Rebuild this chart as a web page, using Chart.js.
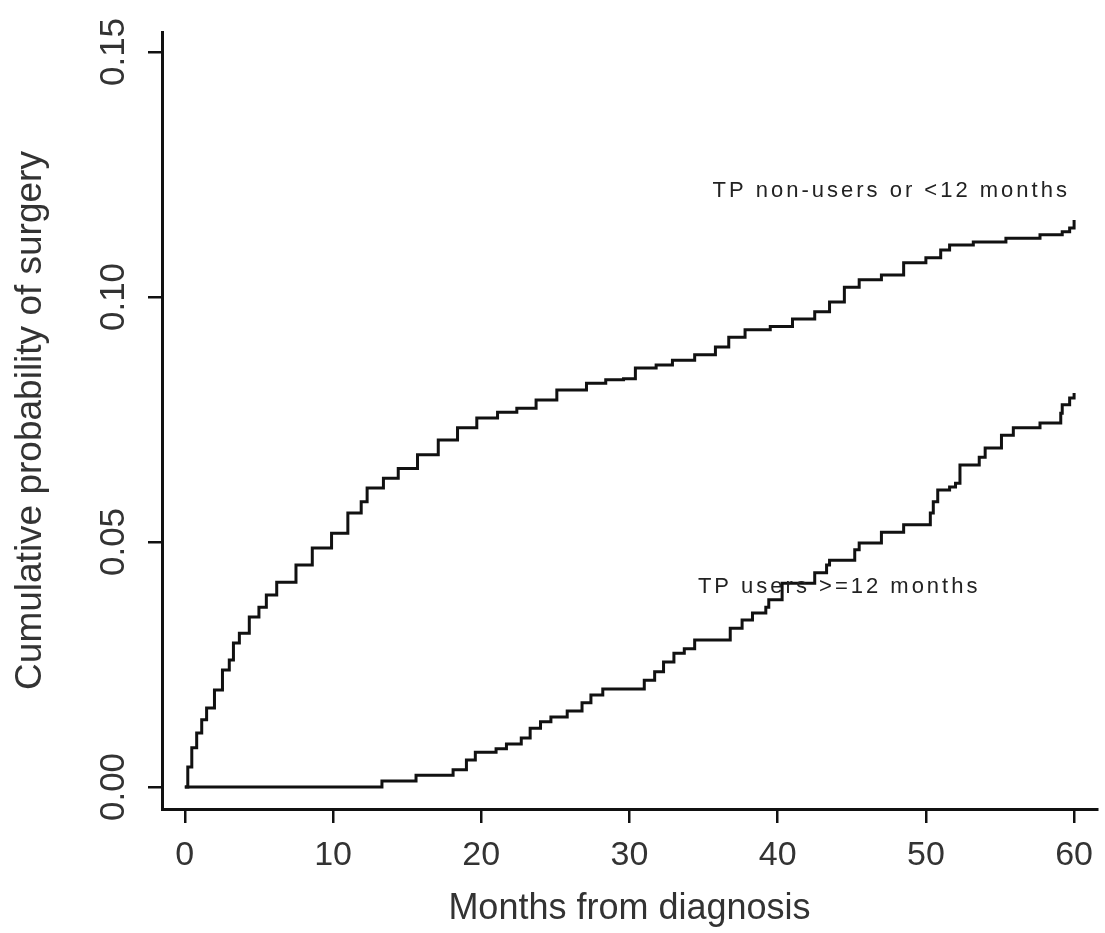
<!DOCTYPE html>
<html>
<head>
<meta charset="utf-8">
<script src="https://cdn.jsdelivr.net/npm/chart.js@4.4.1/dist/chart.umd.min.js"></script>
<style>
  html, body { margin: 0; padding: 0; background: #fff; }
  #grafico { display: block; }
</style>
</head>
<body>
<canvas id="grafico" width="1105" height="933"></canvas>
<script>
// months from diagnosis / cumulative probability
const mesesNoUsuarios = [0, 0.2, 0.47, 0.8, 1.14, 1.47, 2.0, 2.54, 3.0, 3.28, 3.68, 4.35, 5.0, 5.5, 6.2, 7.5, 8.6, 9.9, 11.0, 11.9,
  12.3, 13.4, 14.4, 15.7, 17.1, 18.4, 19.7, 21.1, 22.4, 23.7, 25.1, 27.1, 28.4, 29.6, 30.4, 31.8, 32.9, 34.4, 35.8, 36.7,
  37.8, 39.5, 41.0, 42.5, 43.5, 44.5, 45.5, 47.0, 48.5, 50.0, 51.0, 51.6, 53.2, 55.4, 57.7, 59.2, 59.7, 60.0];
const probNoUsuarios = [0, 0.0041, 0.008, 0.011, 0.0137, 0.0161, 0.0198, 0.0239, 0.0259, 0.0294, 0.0314, 0.0347, 0.0367, 0.0392, 0.0418, 0.0453, 0.0488, 0.0518, 0.0559, 0.0582,
  0.061, 0.063, 0.065, 0.0678, 0.0708, 0.0733, 0.0753, 0.0765, 0.0773, 0.079, 0.081, 0.0824, 0.0831, 0.0833, 0.0855, 0.0861, 0.0871, 0.0882, 0.0898, 0.0918,
  0.0933, 0.094, 0.0955, 0.097, 0.099, 0.102, 0.1035, 0.1045, 0.107, 0.108, 0.1096, 0.1106, 0.1112, 0.112, 0.1127, 0.1133, 0.1141, 0.1157];

const mesesUsuarios = [0, 13.3, 15.6, 18.1, 19.0, 19.6, 21.0, 21.7, 22.7, 23.3, 24.0, 24.7, 25.8, 26.8, 27.4, 28.2, 31.0, 31.7, 32.3, 33.0,
  33.7, 34.4, 36.8, 37.6, 38.3, 39.2, 39.4, 40.3, 42.5, 43.3, 43.5, 45.2, 45.5, 47.0, 48.5, 50.3, 50.5, 50.8, 51.6, 52.0,
  52.3, 53.6, 54.0, 55.1, 55.9, 57.7, 59.1, 59.2, 59.7, 60.0];
const probUsuarios = [0, 0.0012, 0.0024, 0.0035, 0.0055, 0.0071, 0.0078, 0.0088, 0.01, 0.012, 0.0133, 0.0143, 0.0155, 0.0172, 0.0188, 0.02, 0.0218, 0.0235, 0.0255, 0.0273,
  0.0282, 0.03, 0.0324, 0.0341, 0.0355, 0.0367, 0.0382, 0.0416, 0.0437, 0.0453, 0.0463, 0.0484, 0.0498, 0.052, 0.0535, 0.0559, 0.0582, 0.0606, 0.0612, 0.062,
  0.0657, 0.0673, 0.0692, 0.0718, 0.0733, 0.0743, 0.0763, 0.078, 0.0794, 0.0804];

const xTicks = [0, 10, 20, 30, 40, 50, 60];
const yTicks = [0, 0.05, 0.10, 0.15];

const etiquetas = ["TP non-users or <12 months", "TP users >=12 months"];
const etiquetasX = [47.66, 44.15];
const etiquetasY = [0.1204, 0.0396];

const canvas_grafico = document.getElementById("grafico");
const fuente = "'Liberation Sans', Arial, sans-serif";
const tinta = "#111";

function puntos(xs, ys) {
  return xs.map((x, i) => ({ x: x, y: ys[i] }));
}

/* texto junto a cada curva */
const textoCurvas = {
  id: "textoCurvas",
  afterDatasetsDraw(chart) {
    const ctx = chart.ctx;
    const sx = chart.scales.x, sy = chart.scales.y;
    ctx.save();
    ctx.fillStyle = "#222";
    ctx.font = "22px " + fuente;
    ctx.letterSpacing = "3px";
    ctx.textAlign = "center";
    ctx.textBaseline = "alphabetic";
    etiquetas.forEach((t, i) => {
      ctx.fillText(t, sx.getPixelForValue(etiquetasX[i]), sy.getPixelForValue(etiquetasY[i]));
    });
    ctx.restore();
  }
};

const config = {
  type: "line",
  data: {
    datasets: [
      {
        data: puntos(mesesNoUsuarios, probNoUsuarios),
        borderColor: tinta,
        borderWidth: 3,
        pointRadius: 0,
        stepped: true,
        fill: false
      },
      {
        data: puntos(mesesUsuarios, probUsuarios),
        borderColor: tinta,
        borderWidth: 3,
        pointRadius: 0,
        stepped: true,
        fill: false
      }
    ]
  },
  options: {
    responsive: false,
    animation: false,
    devicePixelRatio: 1,
    layout: { padding: { top: 32, right: 0, left: 0, bottom: 0 } },
    plugins: { legend: { display: false }, tooltip: { enabled: false } },
    scales: {
      x: {
        type: "linear",
        min: -1.54,
        max: 61.54,
        afterBuildTicks: (s) => { s.ticks = xTicks.map((v) => ({ value: v })); },
        afterFit: (s) => { s.height = 124; },
        border: { display: true, color: tinta, width: 3 },
        grid: { drawOnChartArea: false, drawTicks: true, tickLength: 14, color: tinta, lineWidth: 2.5 },
        ticks: { color: "#333", font: { family: fuente, size: 34 }, padding: 12, maxRotation: 0, autoSkip: false },
        title: { display: true, text: "Months from diagnosis", color: "#333", font: { family: fuente, size: 36 }, padding: { top: 0, bottom: 2 } }
      },
      y: {
        type: "linear",
        min: -0.00449,
        max: 0.15408,
        afterBuildTicks: (s) => { s.ticks = yTicks.map((v) => ({ value: v })); },
        afterFit: (s) => { s.width = 162; },
        border: { display: true, color: tinta, width: 3 },
        grid: { drawOnChartArea: false, drawTicks: true, tickLength: 14, color: tinta, lineWidth: 2.5 },
        ticks: {
          color: "#333",
          font: { family: fuente, size: 35 },
          padding: 0,
          minRotation: 90,
          maxRotation: 90,
          crossAlign: "center",
          autoSkip: false,
          callback: (v) => Number(v).toFixed(2)
        },
        title: { display: true, text: "Cumulative probability of surgery", color: "#333", font: { family: fuente, size: 37 }, padding: { top: 9, bottom: 0 } }
      }
    }
  },
  plugins: [textoCurvas]
};

const myChart = new Chart(canvas_grafico, config);
</script>
</body>
</html>
